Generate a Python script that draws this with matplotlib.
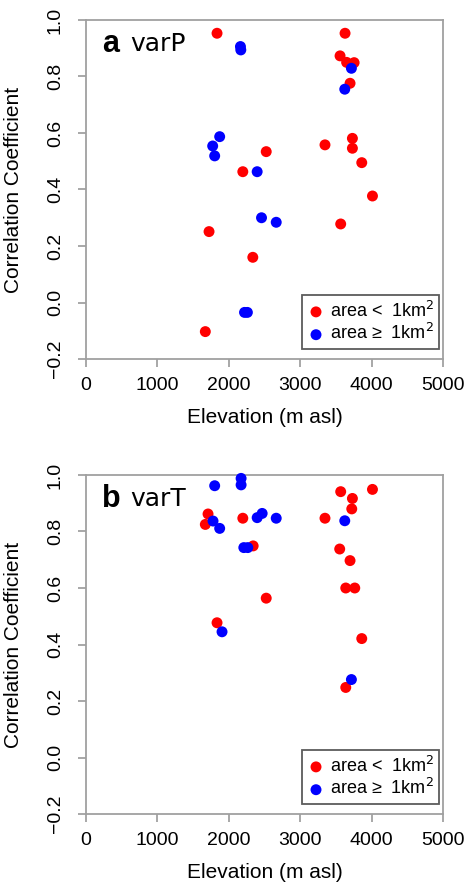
import numpy as np
import matplotlib.pyplot as plt

plt.rcParams['font.family'] = ['Liberation Sans', 'DejaVu Sans']

# panel a: varP
a_small_elev = [1835, 3628, 3558, 3650, 3755, 3698, 2524, 2196, 3347, 3731, 3731, 3862, 4012, 1723, 2336, 3567, 1671]
a_small_corr = [0.953, 0.953, 0.873, 0.85, 0.849, 0.776, 0.534, 0.463, 0.558, 0.581, 0.546, 0.495, 0.377, 0.251, 0.160, 0.278, -0.103]
a_large_elev = [2163, 2168, 3717, 3624, 1872, 1774, 1802, 2397, 2458, 2664, 2220, 2260]
a_large_corr = [0.906, 0.894, 0.829, 0.755, 0.587, 0.554, 0.519, 0.463, 0.300, 0.284, -0.035, -0.035]

# panel b: varT
b_small_elev = [1709, 1671, 2196, 2341, 2524, 1835, 3567, 3731, 3722, 4012, 3347, 3553, 3698, 3638, 3764, 3862, 3638]
b_small_corr = [0.862, 0.825, 0.847, 0.749, 0.564, 0.477, 0.941, 0.917, 0.880, 0.949, 0.847, 0.738, 0.697, 0.600, 0.600, 0.421, 0.248]
b_large_elev = [1802, 2172, 2172, 1779, 1872, 2397, 2467, 2664, 2210, 2266, 1905, 3624, 3717]
b_large_corr = [0.962, 0.988, 0.965, 0.837, 0.811, 0.849, 0.864, 0.847, 0.743, 0.743, 0.445, 0.838, 0.276]

xticks = [0, 1000, 2000, 3000, 4000, 5000]
yticks = [-0.2, 0.0, 0.2, 0.4, 0.6, 0.8, 1.0]
ytick_labels = ['\u22120.2', '0.0', '0.2', '0.4', '0.6', '0.8', '1.0']

fig = plt.figure(figsize=(4.68, 8.88), dpi=100)
ax1 = fig.add_axes([0.1838, 0.5957, 0.7628, 0.3818])
ax2 = fig.add_axes([0.1838, 0.0833, 0.7628, 0.3818])

panels = [
    (ax1, 'a', 'varP', a_small_elev, a_small_corr, a_large_elev, a_large_corr),
    (ax2, 'b', 'varT', b_small_elev, b_small_corr, b_large_elev, b_large_corr),
]

for ax, letter, name, se, sc, le, lc in panels:
    ax.scatter(se, sc, s=62, color='#ff0000', edgecolors='none', label='area <  1km$^2$', clip_on=False, zorder=3)
    ax.scatter(le, lc, s=62, color='#0000ff', edgecolors='none', label='area ≥  1km$^2$', clip_on=False, zorder=3)
    ax.set_xlim(0, 5000)
    ax.set_ylim(-0.2, 1.0)
    ax.set_xticks(xticks)
    ax.set_yticks(yticks)
    ax.set_yticklabels(ytick_labels, rotation=90, va='center')
    ax.tick_params(colors='#999999', labelcolor='black', labelsize=14, length=6, width=1.2)
    ax.tick_params(axis='y', pad=10)
    ax.tick_params(axis='x', pad=7)
    for sp in ax.spines.values():
        sp.set_color('#a0a0a0')
        sp.set_linewidth(1.3)
    ax.set_xlabel('Elevation (m asl)', fontsize=15, labelpad=10)
    ax.set_ylabel('Correlation Coefficient', fontsize=15, labelpad=17)
    ax.text(0.045, 0.928, letter, transform=ax.transAxes, fontsize=22, fontweight='bold', va='center')
    ax.text(0.123, 0.93, name, transform=ax.transAxes, fontsize=18, family='DejaVu Sans', va='center')
    leg = ax.legend(loc='lower right', bbox_to_anchor=(0.99, 0.03), borderaxespad=0, fontsize=13,
                    frameon=True, fancybox=False, handletextpad=0.3, borderpad=0.3, labelspacing=0.15,
                    handlelength=0.9, scatterpoints=1)
    leg.get_frame().set_edgecolor('#333333')
    leg.get_frame().set_linewidth(1.3)

fig.savefig('out.png', dpi=100)
